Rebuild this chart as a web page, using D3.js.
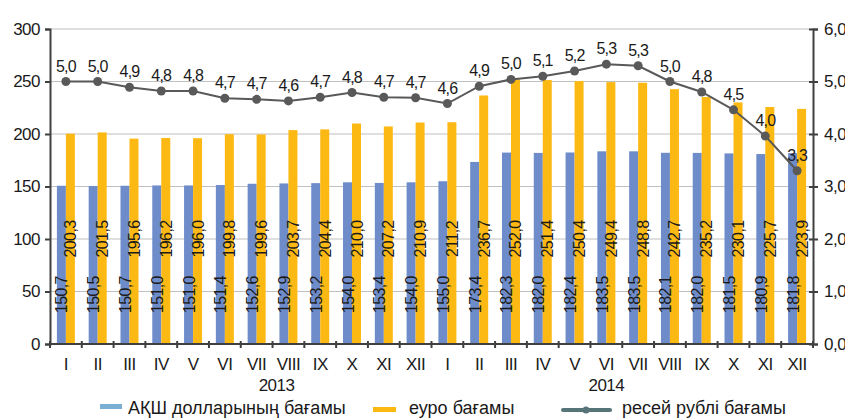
<!DOCTYPE html>
<html><head><meta charset="utf-8">
<script src="https://cdn.jsdelivr.net/npm/d3@7"></script>
<style>
html,body{margin:0;padding:0;background:#fff;}
svg text{font-family:"Liberation Sans",Arial,sans-serif;fill:#1a1a1a;}
</style></head><body>
<svg id="c" width="845" height="419"></svg>
<script>
const months = ["I","II","III","IV","V","VI","VII","VIII","IX","X","XI","XII","I","II","III","IV","V","VI","VII","VIII","IX","X","XI","XII"];
const years = ["2013","2014"];
const usd = [150.7,150.5,150.7,151.0,151.0,151.4,152.6,152.9,153.2,154.0,153.4,154.0,155.0,173.4,182.3,182.0,182.4,183.5,183.5,182.1,182.0,181.5,180.9,181.8];
const eur = [200.3,201.5,195.6,196.2,196.0,199.8,199.6,203.7,204.4,210.0,207.2,210.9,211.2,236.7,252.0,251.4,250.4,249.4,248.8,242.7,235.2,230.1,225.7,223.9];
const rub = [5.00,5.00,4.89,4.82,4.82,4.68,4.66,4.63,4.70,4.79,4.70,4.69,4.58,4.91,5.04,5.10,5.20,5.33,5.30,5.00,4.80,4.46,3.96,3.30];
const leftTicks = [0,50,100,150,200,250,300];
const rightTicks = [0,1,2,3,4,5,6];
const legendLabels = ["АҚШ долларының бағамы","еуро бағамы","ресей рублі бағамы"];

const svg = d3.select("#c");
const L=50, R=813, T=29, B=344;
const idx = d3.range(months.length);
const x = d3.scaleBand().domain(idx).range([L,R]).padding(0);
const yL = d3.scaleLinear().domain([0,300]).range([B,T]);
const yR = d3.scaleLinear().domain([0,6]).range([B,T]);
const cx = i => x(i)+x.bandwidth()/2;
const bw = 9;
const fmt = v => v.toFixed(1).replace(".",",");

// grid
svg.append("g").selectAll("line").data(leftTicks.slice(1)).join("line")
  .attr("x1",L).attr("x2",R).attr("y1",d=>yL(d)).attr("y2",d=>yL(d))
  .attr("stroke","#c0c0c0").attr("stroke-width",1.2);

// bars
svg.append("g").selectAll("rect").data(usd).join("rect")
  .attr("x",(d,i)=>cx(i)-bw).attr("width",bw)
  .attr("y",d=>yL(d)).attr("height",d=>B-yL(d)).attr("fill","#6e8cca");
svg.append("g").selectAll("rect").data(eur).join("rect")
  .attr("x",(d,i)=>cx(i)).attr("width",bw)
  .attr("y",d=>yL(d)).attr("height",d=>B-yL(d)).attr("fill","#fdb913");

// bar labels
svg.append("g").selectAll("text").data(usd).join("text")
  .attr("transform",(d,i)=>`translate(${cx(i)-bw/2+0.5},${yL(47)}) rotate(-90)`)
  .attr("text-anchor","middle").attr("dominant-baseline","central")
  .style("font-size","16px").style("letter-spacing","-0.6px").text(d=>fmt(d));
svg.append("g").selectAll("text").data(eur).join("text")
  .attr("transform",(d,i)=>`translate(${cx(i)+bw/2+0.5},${yL(100)}) rotate(-90)`)
  .attr("text-anchor","middle").attr("dominant-baseline","central")
  .style("font-size","16px").style("letter-spacing","-0.6px").text(d=>fmt(d));

// axes
const axL = svg.append("g").attr("transform",`translate(${L},0)`)
  .call(d3.axisLeft(yL).tickValues(leftTicks).tickSize(5).tickPadding(5).tickFormat(d3.format("d")));
const axR = svg.append("g").attr("transform",`translate(${R},0)`)
  .call(d3.axisRight(yR).tickValues(rightTicks).tickSize(5).tickPadding(6).tickFormat(fmt));
const axB = svg.append("g").attr("transform",`translate(0,${B})`)
  .call(d3.axisBottom(x).tickSize(0).tickPadding(14).tickFormat(i=>months[i]));
[axL,axR,axB].forEach(a=>{
  a.select(".domain").attr("stroke","#404040").attr("stroke-width",2);
  a.selectAll(".tick line").attr("stroke","#404040").attr("stroke-width",2);
  a.selectAll("text").style("font-size","17px").style("letter-spacing","-0.5px").attr("fill","#1a1a1a");
});
axB.select(".domain").attr("d",`M${L},0H${R}`);
// bottom category boundary ticks
axB.append("g").selectAll("line").data(d3.range(months.length+1)).join("line")
  .attr("x1",i=>L+i*x.bandwidth()).attr("x2",i=>L+i*x.bandwidth())
  .attr("y1",-3).attr("y2",4).attr("stroke","#404040").attr("stroke-width",2);
axR.selectAll(".tick line").attr("x1",-4);

// year labels
svg.append("g").selectAll("text").data(years).join("text")
  .attr("x",(d,i)=> i===0 ? x(7)+4 : cx(17))
  .attr("y",391).attr("text-anchor","middle")
  .style("font-size","17px").style("letter-spacing","-0.5px").text(d=>d);

// line
const line = d3.line().x((d,i)=>cx(i)).y(d=>yR(d));
svg.append("path").datum(rub).attr("d",line).attr("fill","none")
  .attr("stroke","#595959").attr("stroke-width",2);
svg.append("g").selectAll("circle").data(rub).join("circle")
  .attr("cx",(d,i)=>cx(i)).attr("cy",d=>yR(d)).attr("r",4.5).attr("fill","#595959");
svg.append("g").selectAll("text").data(rub).join("text")
  .attr("x",(d,i)=>cx(i)).attr("y",d=>yR(d)-10).attr("text-anchor","middle")
  .style("font-size","16px").style("letter-spacing","-0.8px").text(d=>fmt(d));

// legend
const lg = svg.append("g");
lg.append("rect").attr("x",100).attr("y",404).attr("width",22).attr("height",5).attr("fill","#7aaed2");
lg.append("text").attr("x",128).attr("y",414).style("font-size","18px").text(legendLabels[0]);
lg.append("rect").attr("x",373).attr("y",407).attr("width",23).attr("height",5).attr("fill","#fbb912");
lg.append("text").attr("x",409).attr("y",414).style("font-size","18px").text(legendLabels[1]);
lg.append("line").attr("x1",563).attr("x2",610).attr("y1",410).attr("y2",410).attr("stroke","#577479").attr("stroke-width",4).attr("stroke-linecap","round");
lg.append("circle").attr("cx",586).attr("cy",410).attr("r",3.5).attr("fill","#577479");
lg.append("text").attr("x",622).attr("y",414).style("font-size","18px").text(legendLabels[2]);
</script>
</body></html>
